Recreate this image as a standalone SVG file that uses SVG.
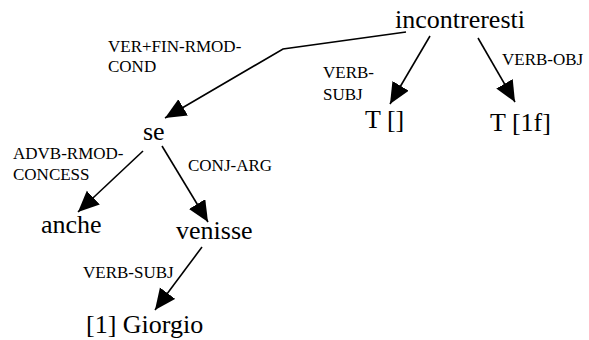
<svg xmlns="http://www.w3.org/2000/svg" width="589" height="340" viewBox="0 0 589 340">
<style>
.node{font-family:"Liberation Serif","Times New Roman",serif;font-size:26px;fill:#000}
.lbl{font-family:"Liberation Serif","Times New Roman",serif;font-size:17px;fill:#000}
.edge{fill:none;stroke:#000;stroke-width:1.6}
</style>
<defs>
<marker id="arr" markerUnits="userSpaceOnUse" markerWidth="22" markerHeight="20" refX="21" refY="9.5" orient="auto">
<path d="M0,0 L21,9.5 L0,19 z" fill="#000"/>
</marker>
</defs>
<rect width="589" height="340" fill="#fff"/>
<g id="connectors">
<polyline class="edge" points="406,32 283,49 165,118" marker-end="url(#arr)"/>
<line class="edge" x1="430" y1="36" x2="390" y2="104" marker-end="url(#arr)"/>
<line class="edge" x1="478" y1="38" x2="515" y2="102" marker-end="url(#arr)"/>
<line class="edge" x1="143" y1="151" x2="78" y2="212" marker-end="url(#arr)"/>
<line class="edge" x1="162" y1="146" x2="208" y2="222" marker-end="url(#arr)"/>
<line class="edge" x1="202" y1="247" x2="155" y2="310" marker-end="url(#arr)"/>
</g>
<g id="labels">
<text class="lbl" x="108" y="52">VER+FIN-RMOD-</text>
<text class="lbl" x="108" y="72">COND</text>
<text class="lbl" x="323" y="78">VERB-</text>
<text class="lbl" x="323" y="100">SUBJ</text>
<text class="lbl" x="502" y="65">VERB-OBJ</text>
<text class="lbl" x="13" y="159">ADVB-RMOD-</text>
<text class="lbl" x="13" y="180">CONCESS</text>
<text class="lbl" x="188" y="171">CONJ-ARG</text>
<text class="lbl" x="83" y="278">VERB-SUBJ</text>
</g>
<g id="node-incontreresti"><text class="node" x="395" y="28">incontreresti</text></g>
<g id="node-T-empty"><text class="node" x="365" y="128">T []</text></g>
<g id="node-T-1f"><text class="node" x="490" y="131">T [1f]</text></g>
<g id="node-se"><text class="node" x="143" y="140">se</text></g>
<g id="node-anche"><text class="node" x="41" y="233">anche</text></g>
<g id="node-venisse"><text class="node" x="176" y="239">venisse</text></g>
<g id="node-giorgio"><text class="node" x="86" y="333">[1] Giorgio</text></g>
</svg>
